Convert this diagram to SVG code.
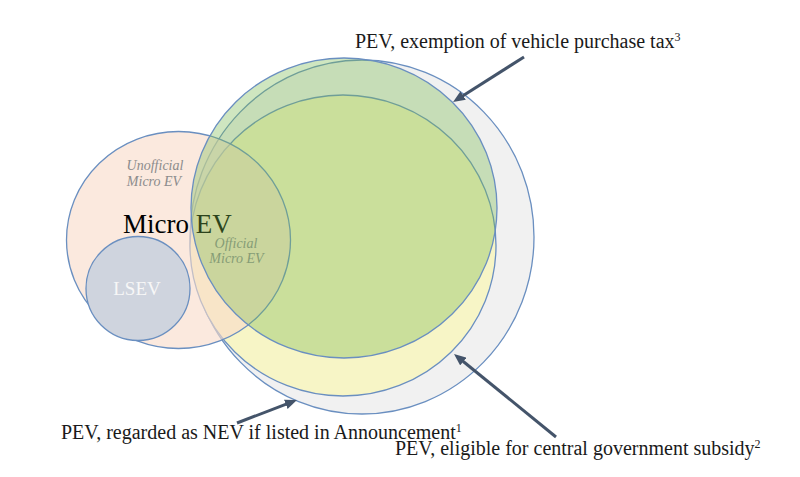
<svg xmlns="http://www.w3.org/2000/svg" width="800" height="477" viewBox="0 0 800 477">
<style>
.c{stroke:#6a8fc0;stroke-width:1.3}
.lbl{font-family:"Liberation Serif","Times New Roman",serif;font-size:20px;fill:#1a1a1a}
.sup{font-size:12px;fill:#1a1a1a}
.it{font-family:"Liberation Serif","Times New Roman",serif;font-style:italic;font-size:14px;fill:#8c8c8c;text-anchor:middle}
.arr{stroke:#44546a;stroke-width:3;fill:none;marker-end:url(#ah)}
</style>
<defs>
<marker id="ah" markerUnits="userSpaceOnUse" markerWidth="12" markerHeight="10" refX="4" refY="5" orient="auto" viewBox="0 0 12 10"><path d="M0,0 L12,5 L0,10 Z" fill="#44546a"/></marker>
</defs>
<rect width="800" height="477" fill="#ffffff"/>
<g id="pev-nev">
<ellipse class="c" cx="362" cy="237" rx="172" ry="177" fill="#f1f1f1"/>
</g>
<g id="pev-subsidy">
<ellipse class="c" cx="343" cy="245.5" rx="153" ry="150.5" fill="#f7f5c6"/>
</g>
<g id="micro-ev">
<ellipse class="c" cx="178.5" cy="240" rx="112" ry="108.5" fill="#f8dcc9" fill-opacity="0.62"/>
<text class="it" x="155" y="170">Unofficial</text>
<text class="it" x="154" y="186">Micro EV</text>
<text x="123" y="233" style="font-family:'Liberation Serif','Times New Roman',serif;font-size:27px;fill:#000">Micro EV</text>
<text class="it" x="236" y="248">Official</text>
<text class="it" x="236.5" y="263">Micro EV</text>
</g>
<g id="lsev">
<circle class="c" cx="138" cy="288.5" r="52" fill="#cfd4de"/>
<text x="137" y="295" text-anchor="middle" style="font-family:'Liberation Serif','Times New Roman',serif;font-size:19px;fill:#f7f7f7">LSEV</text>
</g>
<g id="pev-tax">
<ellipse class="c" cx="344" cy="208" rx="153" ry="150" fill="#7aba51" fill-opacity="0.36"/>
</g>
<g id="connectors">
<line class="arr" x1="524" y1="57" x2="459.8" y2="97.7"/>
<line class="arr" x1="237" y1="423" x2="289.5" y2="402.9"/>
<line class="arr" x1="556" y1="437" x2="460.2" y2="359"/>
</g>
<g id="labels">
<text class="lbl" x="355" y="48">PEV, exemption of vehicle purchase tax<tspan class="sup" dy="-7">3</tspan></text>
<text class="lbl" x="61" y="439">PEV, regarded as NEV if listed in Announcement<tspan class="sup" dy="-7">1</tspan></text>
<text class="lbl" x="395" y="455">PEV, eligible for central government subsidy<tspan class="sup" dy="-7">2</tspan></text>
</g>
</svg>
